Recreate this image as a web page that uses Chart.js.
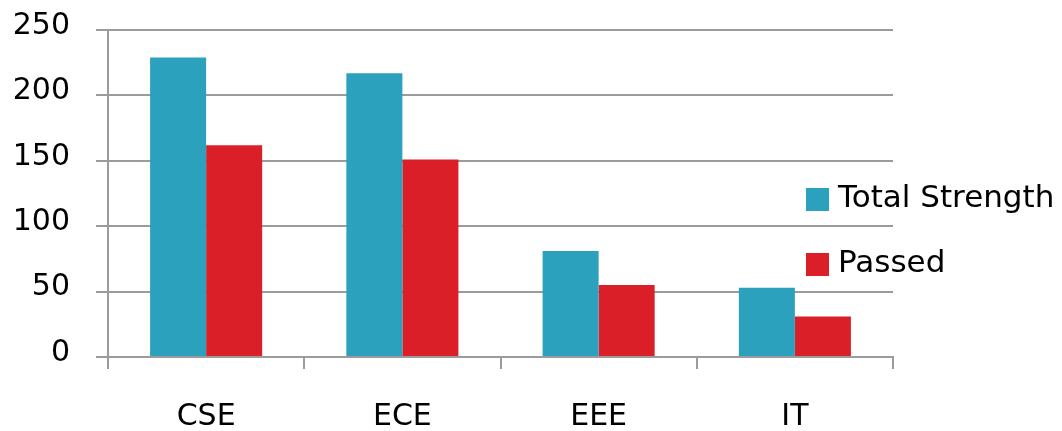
<!DOCTYPE html>
<html>
<head>
<meta charset="utf-8">
<script src="https://cdn.jsdelivr.net/npm/chart.js@4.4.1/dist/chart.umd.min.js"></script>
<style>
  html, body { margin: 0; padding: 0; background: #fff; }
  #wrap { width: 1062px; height: 431px; }
</style>
</head>
<body>
<div id="wrap"><canvas id="myChart" width="1062" height="431"></canvas></div>
<script>
// data
const categories = ['CSE', 'ECE', 'EEE', 'IT'];
const totalStrength = [229, 217, 81, 53];
const passed = [162, 151, 55, 31];
const seriesNames = ['Total Strength', 'Passed'];
const yTicks = [0, 50, 100, 150, 200, 250];

const fontFamily = '"DejaVu Sans", Verdana, sans-serif';
const gridColor = '#9b9b9b';

// legend drawn at the right, like the original
const sideLegend = {
    id: 'sideLegend',
    afterDraw(chart) {
        const ctx = chart.ctx;
        const x = 806;
        const rows = [188, 253];
        ctx.save();
        ctx.font = '31px ' + fontFamily;
        ctx.textBaseline = 'alphabetic';
        ctx.textAlign = 'left';
        chart.data.datasets.forEach(function(ds, i){
            ctx.fillStyle = ds.backgroundColor;
            ctx.fillRect(x, rows[i], 23, 23);
            ctx.fillStyle = '#000';
            ctx.fillText(ds.label, x + 32, rows[i] + 19);
        });
        ctx.restore();
    }
};

const config = {
    type: 'bar',
    data: {
        labels: categories,
        datasets: [
            {
                label: seriesNames[0],
                data: totalStrength,
                backgroundColor: '#2ca1be',
                categoryPercentage: 0.571,
                barPercentage: 1.0
            },
            {
                label: seriesNames[1],
                data: passed,
                backgroundColor: '#da1f28',
                categoryPercentage: 0.571,
                barPercentage: 1.0
            }
        ]
    },
    options: {
        responsive: false,
        animation: false,
        layout: { padding: { left: 0, right: 169, top: 10, bottom: 0 } },
        plugins: {
            legend: { display: false },
            tooltip: { enabled: false }
        },
        scales: {
            x: {
                grid: {
                    offset: true,
                    drawOnChartArea: false,
                    drawTicks: true,
                    tickLength: 12,
                    color: gridColor,
                    lineWidth: 2
                },
                border: { color: gridColor, width: 2 },
                ticks: {
                    color: '#000',
                    font: { family: fontFamily, size: 30 },
                    padding: 30
                },
                afterFit(scale) { scale.height = 74; }
            },
            y: {
                min: 0,
                max: 250,
                afterBuildTicks(scale) {
                    scale.ticks = yTicks.map(function(v){ return { value: v }; });
                },
                grid: {
                    color: gridColor,
                    lineWidth: 2,
                    drawTicks: true,
                    tickLength: 12
                },
                border: { color: gridColor, width: 2 },
                ticks: {
                    color: '#000',
                    font: { family: fontFamily, size: 30, lineHeight: 0.27 },
                    padding: 26,
                    labelOffset: -4
                },
                afterFit(scale) { scale.width = 108; }
            }
        }
    },
    plugins: [sideLegend]
};

let grafico = new Chart(document.getElementById('myChart'), config);
</script>
</body>
</html>
